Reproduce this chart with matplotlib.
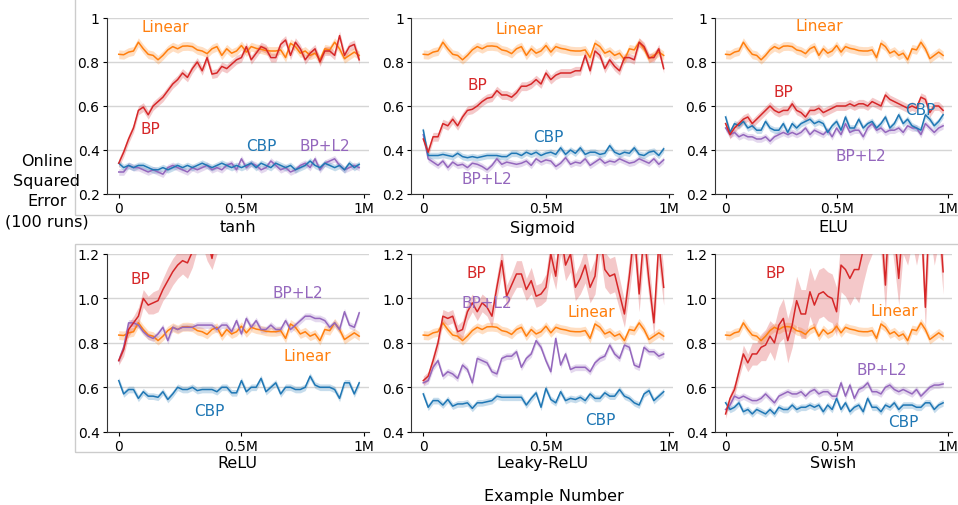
import numpy as np
import matplotlib.pyplot as plt
from matplotlib.patches import Rectangle

# x positions: one evaluation every 20k examples, in millions
STEP_M = 0.02
N_PTS = 50

# Linear baseline is the same in every panel
LINEAR = [0.835, 0.833, 0.845, 0.85, 0.89, 0.86, 0.835, 0.83, 0.81, 0.83,
          0.855, 0.87, 0.86, 0.872, 0.873, 0.87, 0.855, 0.85, 0.838, 0.86,
          0.87, 0.83, 0.86, 0.84, 0.85, 0.875, 0.845, 0.87, 0.862, 0.858,
          0.852, 0.85, 0.85, 0.855, 0.82, 0.885, 0.87, 0.84, 0.85, 0.83,
          0.84, 0.81, 0.86, 0.855, 0.89, 0.86, 0.815, 0.83, 0.845, 0.83]

TANH_BP = [0.34, 0.39, 0.45, 0.50, 0.58, 0.595, 0.56, 0.60, 0.62, 0.64,
           0.67, 0.70, 0.72, 0.75, 0.73, 0.77, 0.80, 0.76, 0.82, 0.745,
           0.75, 0.78, 0.77, 0.79, 0.81, 0.82, 0.87, 0.81, 0.84, 0.87,
           0.86, 0.82, 0.82, 0.88, 0.90, 0.83, 0.89, 0.86, 0.81, 0.84,
           0.86, 0.80, 0.85, 0.85, 0.83, 0.92, 0.83, 0.87, 0.88, 0.81]
TANH_CBP = [0.34, 0.32, 0.33, 0.32, 0.33, 0.33, 0.32, 0.31, 0.31, 0.32,
            0.31, 0.32, 0.33, 0.32, 0.33, 0.32, 0.33, 0.34, 0.33, 0.32,
            0.33, 0.34, 0.33, 0.32, 0.33, 0.32, 0.33, 0.34, 0.32, 0.34,
            0.33, 0.32, 0.34, 0.33, 0.32, 0.33, 0.31, 0.32, 0.33, 0.35,
            0.33, 0.32, 0.34, 0.33, 0.32, 0.33, 0.31, 0.34, 0.32, 0.335]
TANH_L2 = [0.30, 0.30, 0.33, 0.32, 0.32, 0.31, 0.30, 0.31, 0.30, 0.29,
           0.32, 0.33, 0.32, 0.31, 0.30, 0.32, 0.31, 0.32, 0.33, 0.31,
           0.32, 0.31, 0.33, 0.34, 0.31, 0.36, 0.32, 0.34, 0.33, 0.31,
           0.32, 0.35, 0.33, 0.31, 0.32, 0.30, 0.31, 0.33, 0.34, 0.32,
           0.36, 0.31, 0.34, 0.35, 0.36, 0.33, 0.31, 0.32, 0.33, 0.32]

SIG_BP = [0.45, 0.39, 0.46, 0.46, 0.52, 0.51, 0.54, 0.51, 0.55, 0.58,
          0.585, 0.60, 0.62, 0.635, 0.64, 0.67, 0.65, 0.65, 0.64, 0.66,
          0.69, 0.69, 0.70, 0.72, 0.70, 0.75, 0.72, 0.74, 0.75, 0.75,
          0.75, 0.76, 0.76, 0.83, 0.76, 0.85, 0.83, 0.77, 0.81, 0.78,
          0.76, 0.82, 0.82, 0.81, 0.89, 0.87, 0.82, 0.82, 0.86, 0.77]
SIG_CBP = [0.49, 0.375, 0.375, 0.375, 0.38, 0.375, 0.37, 0.385, 0.37, 0.365,
           0.37, 0.365, 0.37, 0.375, 0.375, 0.375, 0.37, 0.37, 0.385, 0.385,
           0.375, 0.39, 0.38, 0.39, 0.375, 0.385, 0.39, 0.38, 0.41, 0.38,
           0.40, 0.385, 0.41, 0.38, 0.39, 0.39, 0.38, 0.385, 0.42, 0.39,
           0.38, 0.39, 0.385, 0.41, 0.38, 0.375, 0.39, 0.395, 0.375, 0.405]
SIG_L2 = [0.47, 0.36, 0.345, 0.33, 0.35, 0.32, 0.345, 0.33, 0.335, 0.32,
          0.34, 0.335, 0.325, 0.31, 0.33, 0.36, 0.335, 0.345, 0.34, 0.335,
          0.34, 0.35, 0.33, 0.36, 0.345, 0.355, 0.35, 0.325, 0.34, 0.365,
          0.335, 0.345, 0.34, 0.36, 0.33, 0.345, 0.36, 0.34, 0.35, 0.345,
          0.36, 0.35, 0.34, 0.345, 0.36, 0.35, 0.34, 0.36, 0.335, 0.355]

ELU_BP = [0.52, 0.47, 0.50, 0.52, 0.54, 0.55, 0.52, 0.54, 0.56, 0.58,
          0.60, 0.58, 0.57, 0.58, 0.58, 0.61, 0.58, 0.57, 0.55, 0.58,
          0.58, 0.59, 0.57, 0.58, 0.59, 0.60, 0.60, 0.60, 0.61, 0.60,
          0.61, 0.61, 0.60, 0.62, 0.61, 0.60, 0.65, 0.63, 0.62, 0.61,
          0.60, 0.59, 0.60, 0.59, 0.64, 0.63, 0.57, 0.60, 0.60, 0.58]
ELU_CBP = [0.55, 0.48, 0.52, 0.51, 0.53, 0.50, 0.51, 0.49, 0.49, 0.53,
           0.50, 0.49, 0.49, 0.52, 0.48, 0.52, 0.50, 0.52, 0.53, 0.54,
           0.52, 0.53, 0.52, 0.48, 0.51, 0.53, 0.49, 0.55, 0.50, 0.50,
           0.54, 0.50, 0.52, 0.53, 0.50, 0.52, 0.55, 0.50, 0.52, 0.56,
           0.52, 0.54, 0.51, 0.50, 0.49, 0.56, 0.54, 0.51, 0.53, 0.56]
ELU_L2 = [0.50, 0.47, 0.48, 0.46, 0.47, 0.46, 0.46, 0.45, 0.45, 0.46,
          0.44, 0.46, 0.47, 0.48, 0.47, 0.48, 0.47, 0.48, 0.50, 0.47,
          0.49, 0.48, 0.47, 0.49, 0.46, 0.50, 0.47, 0.52, 0.48, 0.49,
          0.49, 0.46, 0.50, 0.52, 0.49, 0.50, 0.48, 0.49, 0.49, 0.50,
          0.48, 0.51, 0.50, 0.50, 0.47, 0.52, 0.50, 0.48, 0.50, 0.51]

RELU_BP = [0.72, 0.77, 0.86, 0.89, 0.92, 1.00, 0.97, 0.98, 0.99, 1.04,
           1.08, 1.12, 1.15, 1.17, 1.16, 1.21, 1.30, 1.34, 1.27, 1.18,
           1.30, 1.38, 1.42, 1.32, 1.45, 1.50, 1.42, 1.48, 1.55, 1.46,
           1.52, 1.50, 1.45, 1.55, 1.32, 1.58, 1.55, 1.48, 1.60, 1.52,
           1.56, 1.62, 1.50, 1.58, 1.55, 1.60, 1.52, 1.65, 1.58, 1.60]
RELU_BP_ERR = [0.02, 0.03, 0.03, 0.03, 0.04, 0.04, 0.04, 0.05, 0.05, 0.05,
               0.06, 0.06, 0.06, 0.06, 0.07, 0.07, 0.08, 0.10, 0.10, 0.05,
               0.10, 0.12, 0.12, 0.12, 0.15, 0.15, 0.15, 0.15, 0.15, 0.15,
               0.15, 0.15, 0.15, 0.15, 0.12, 0.15, 0.15, 0.15, 0.15, 0.15,
               0.15, 0.15, 0.15, 0.15, 0.15, 0.15, 0.15, 0.15, 0.15, 0.15]
RELU_CBP = [0.63, 0.57, 0.59, 0.59, 0.55, 0.58, 0.56, 0.56, 0.555, 0.58,
            0.545, 0.57, 0.60, 0.59, 0.59, 0.60, 0.585, 0.59, 0.59, 0.59,
            0.58, 0.60, 0.60, 0.575, 0.575, 0.63, 0.58, 0.60, 0.60, 0.64,
            0.58, 0.60, 0.62, 0.57, 0.60, 0.60, 0.59, 0.59, 0.60, 0.65,
            0.61, 0.60, 0.60, 0.60, 0.59, 0.55, 0.62, 0.62, 0.57, 0.62]
RELU_L2 = [0.72, 0.78, 0.89, 0.89, 0.88, 0.85, 0.83, 0.82, 0.84, 0.87,
           0.81, 0.87, 0.86, 0.87, 0.87, 0.87, 0.88, 0.88, 0.88, 0.88,
           0.86, 0.88, 0.88, 0.85, 0.90, 0.84, 0.91, 0.87, 0.90, 0.86,
           0.86, 0.88, 0.86, 0.86, 0.90, 0.86, 0.88, 0.90, 0.92, 0.92,
           0.91, 0.91, 0.90, 0.87, 0.89, 0.86, 0.94, 0.88, 0.87, 0.935]

LEAKY_BP = [0.63, 0.65, 0.72, 0.80, 0.92, 0.91, 0.92, 0.85, 0.86, 0.94,
            0.98, 0.94, 0.98, 0.96, 0.92, 1.05, 1.17, 1.01, 1.06, 1.11,
            1.11, 1.04, 1.08, 1.01, 1.02, 1.05, 1.20, 1.10, 1.30, 1.15,
            1.20, 1.05, 1.09, 1.15, 1.05, 1.10, 1.30, 1.13, 1.10, 1.11,
            1.02, 0.93, 1.10, 1.30, 1.02, 1.30, 1.08, 0.89, 1.25, 1.05]
LEAKY_BP_ERR = [0.02, 0.02, 0.03, 0.03, 0.03, 0.03, 0.03, 0.03, 0.04, 0.04,
                0.04, 0.04, 0.04, 0.04, 0.05, 0.05, 0.06, 0.05, 0.05, 0.06,
                0.06, 0.05, 0.06, 0.05, 0.05, 0.06, 0.08, 0.06, 0.10, 0.07,
                0.08, 0.06, 0.07, 0.08, 0.07, 0.08, 0.10, 0.08, 0.08, 0.08,
                0.07, 0.06, 0.08, 0.10, 0.08, 0.10, 0.08, 0.06, 0.10, 0.08]
LEAKY_CBP = [0.57, 0.51, 0.54, 0.54, 0.52, 0.545, 0.515, 0.525, 0.525, 0.53,
             0.505, 0.53, 0.53, 0.535, 0.54, 0.56, 0.555, 0.555, 0.555, 0.555,
             0.555, 0.52, 0.55, 0.575, 0.51, 0.595, 0.545, 0.53, 0.58, 0.54,
             0.55, 0.545, 0.555, 0.54, 0.57, 0.55, 0.55, 0.575, 0.56, 0.56,
             0.59, 0.56, 0.55, 0.53, 0.52, 0.57, 0.585, 0.54, 0.56, 0.58]
LEAKY_L2 = [0.62, 0.63, 0.69, 0.72, 0.65, 0.67, 0.66, 0.64, 0.70, 0.68,
            0.62, 0.73, 0.72, 0.71, 0.67, 0.66, 0.73, 0.74, 0.74, 0.76,
            0.69, 0.73, 0.75, 0.81, 0.78, 0.72, 0.67, 0.82, 0.70, 0.75,
            0.68, 0.69, 0.69, 0.69, 0.67, 0.71, 0.73, 0.74, 0.79, 0.75,
            0.73, 0.79, 0.78, 0.70, 0.69, 0.78, 0.76, 0.76, 0.74, 0.75]

SWISH_BP = [0.48, 0.55, 0.59, 0.67, 0.75, 0.71, 0.75, 0.75, 0.78, 0.79,
            0.83, 0.80, 0.88, 0.91, 0.81, 0.88, 0.99, 0.93, 0.93, 1.03,
            0.97, 1.02, 1.03, 1.01, 1.00, 0.94, 1.15, 1.13, 1.09, 1.13,
            1.13, 1.22, 1.30, 1.35, 1.40, 1.35, 1.06, 1.45, 1.30, 1.09,
            1.35, 1.30, 1.40, 1.30, 1.40, 0.96, 1.45, 1.30, 1.40, 1.12]
SWISH_BP_ERR = [0.02, 0.02, 0.03, 0.03, 0.04, 0.04, 0.05, 0.05, 0.06, 0.07,
                0.07, 0.08, 0.08, 0.09, 0.10, 0.10, 0.11, 0.11, 0.11, 0.11,
                0.11, 0.11, 0.11, 0.11, 0.11, 0.11, 0.12, 0.12, 0.12, 0.12,
                0.15, 0.15, 0.15, 0.15, 0.15, 0.15, 0.12, 0.15, 0.15, 0.12,
                0.15, 0.15, 0.15, 0.15, 0.15, 0.10, 0.15, 0.15, 0.15, 0.10]
SWISH_CBP = [0.53, 0.50, 0.51, 0.53, 0.49, 0.50, 0.48, 0.50, 0.49, 0.48,
             0.50, 0.48, 0.51, 0.50, 0.50, 0.52, 0.50, 0.51, 0.51, 0.52,
             0.51, 0.52, 0.49, 0.52, 0.50, 0.55, 0.50, 0.53, 0.49, 0.51,
             0.52, 0.49, 0.55, 0.51, 0.51, 0.49, 0.52, 0.51, 0.53, 0.50,
             0.52, 0.52, 0.52, 0.51, 0.51, 0.53, 0.53, 0.50, 0.52, 0.53]
SWISH_L2 = [0.50, 0.52, 0.56, 0.55, 0.56, 0.55, 0.54, 0.54, 0.55, 0.57,
            0.55, 0.53, 0.56, 0.57, 0.58, 0.57, 0.57, 0.58, 0.56, 0.58,
            0.59, 0.57, 0.58, 0.58, 0.56, 0.56, 0.62, 0.56, 0.61, 0.55,
            0.59, 0.60, 0.62, 0.58, 0.58, 0.57, 0.60, 0.61, 0.59, 0.58,
            0.59, 0.58, 0.57, 0.59, 0.56, 0.58, 0.60, 0.61, 0.61, 0.615]

ERR_DEFAULT = 0.02   # half-width of the shaded band for the stable curves
ERR_SMALL = 0.015

COLORS = {'Linear': '#ff7f0e', 'BP': '#d62728', 'CBP': '#1f77b4', 'BP+L2': '#9467bd'}

YLABEL_LINES = ['Online', 'Squared', 'Error', '(100 runs)']

# panel: (name, series, BP band, label positions (x in M, y))
PANELS = [
    ('tanh', {'BP': TANH_BP, 'CBP': TANH_CBP, 'BP+L2': TANH_L2}, None,
     {'Linear': (0.19, 0.96), 'BP': (0.13, 0.50), 'CBP': (0.58, 0.42), 'BP+L2': (0.84, 0.42)}),
    ('Sigmoid', {'BP': SIG_BP, 'CBP': SIG_CBP, 'BP+L2': SIG_L2}, None,
     {'Linear': (0.39, 0.95), 'BP': (0.22, 0.70), 'CBP': (0.51, 0.46), 'BP+L2': (0.26, 0.27)}),
    ('ELU', {'BP': ELU_BP, 'CBP': ELU_CBP, 'BP+L2': ELU_L2}, None,
     {'Linear': (0.42, 0.965), 'BP': (0.26, 0.665), 'CBP': (0.875, 0.583), 'BP+L2': (0.61, 0.377)}),
    ('ReLU', {'BP': RELU_BP, 'CBP': RELU_CBP, 'BP+L2': RELU_L2}, RELU_BP_ERR,
     {'Linear': (0.77, 0.745), 'BP': (0.09, 1.09), 'CBP': (0.37, 0.494), 'BP+L2': (0.73, 1.027)}),
    ('Leaky-ReLU', {'BP': LEAKY_BP, 'CBP': LEAKY_CBP, 'BP+L2': LEAKY_L2}, LEAKY_BP_ERR,
     {'Linear': (0.685, 0.94), 'BP': (0.215, 1.117), 'CBP': (0.72, 0.457), 'BP+L2': (0.26, 0.98)}),
    ('Swish', {'BP': SWISH_BP, 'CBP': SWISH_CBP, 'BP+L2': SWISH_L2}, SWISH_BP_ERR,
     {'Linear': (0.76, 0.945), 'BP': (0.225, 1.117), 'CBP': (0.80, 0.445), 'BP+L2': (0.705, 0.682)}),
]

W, H = 958, 506
fig = plt.figure(figsize=(W / 100, H / 100), dpi=100)

# light frames around the two rows
fig.add_artist(Rectangle((75 / W, 1 - 216 / H), 1.0, 1.0, transform=fig.transFigure,
                         fill=False, edgecolor='#cccccc', lw=1.0))
fig.add_artist(Rectangle((75 / W, 1 - 453 / H), 1.0, (453 - 245) / H, transform=fig.transFigure,
                         fill=False, edgecolor='#cccccc', lw=1.0))

# axes boxes in pixels: (left, right) per column, (top, bottom) per row
cols = [(106.5, 369), (411, 673.5), (714.5, 952)]
rows = [(19, 195), (255, 432.7)]
title_y = [228, 464]

x = np.arange(N_PTS) * STEP_M

for i, (name, series, bp_err, labels) in enumerate(PANELS):
    r, c = divmod(i, 3)
    l, rgt = cols[c]
    t, b = rows[r]
    ax = fig.add_axes([l / W, 1 - b / H, (rgt - l) / W, (b - t) / H])

    ax.plot(x, LINEAR, color=COLORS['Linear'], lw=1.1)
    ax.fill_between(x, np.array(LINEAR) - ERR_DEFAULT, np.array(LINEAR) + ERR_DEFAULT,
                    color=COLORS['Linear'], alpha=0.25, lw=0)
    for key in ['BP+L2', 'CBP', 'BP']:
        y = np.array(series[key])
        if key == 'BP':
            e = np.array(bp_err) if bp_err is not None else ERR_DEFAULT
        else:
            e = ERR_SMALL
        ax.fill_between(x, y - e, y + e, color=COLORS[key], alpha=0.25, lw=0)
        ax.plot(x, y, color=COLORS[key], lw=1.1)

    for key, (lx, ly) in labels.items():
        ax.text(lx, ly, key, color=COLORS[key], fontsize=11, ha='center', va='center')

    ax.set_xlim(-0.05, 1.02)
    ax.set_xticks([0, 0.5, 1.0])
    ax.set_xticklabels(['0', '0.5M', '1M'])
    if r == 0:
        ax.set_ylim(0.2, 1.0)
        ax.set_yticks([0.2, 0.4, 0.6, 0.8, 1.0])
        ax.set_yticklabels(['0.2', '0.4', '0.6', '0.8', '1'])
    else:
        ax.set_ylim(0.4, 1.2)
        ax.set_yticks([0.4, 0.6, 0.8, 1.0, 1.2])
        ax.set_yticklabels(['0.4', '0.6', '0.8', '1.0', '1.2'])
    ax.tick_params(labelsize=10, length=3, pad=2)
    ax.yaxis.grid(True, color='#d5d5d5', lw=1.0)
    ax.set_axisbelow(True)
    for s in ['top', 'right']:
        ax.spines[s].set_visible(False)
    for s in ['left', 'bottom']:
        ax.spines[s].set_color('#333333')

    fig.text(((l + rgt) / 2) / W, 1 - title_y[r] / H, name, fontsize=11.5,
             ha='center', va='center')

# y label: one text per line, stacked
for k, line in enumerate(YLABEL_LINES):
    fig.text(47 / W, 1 - (162 + 20 * k) / H, line, fontsize=11.5,
             ha='center', va='center')
fig.text(554 / W, 1 - 497 / H, 'Example Number', fontsize=11.5, ha='center', va='center')

fig.savefig('out.png', dpi=100)
